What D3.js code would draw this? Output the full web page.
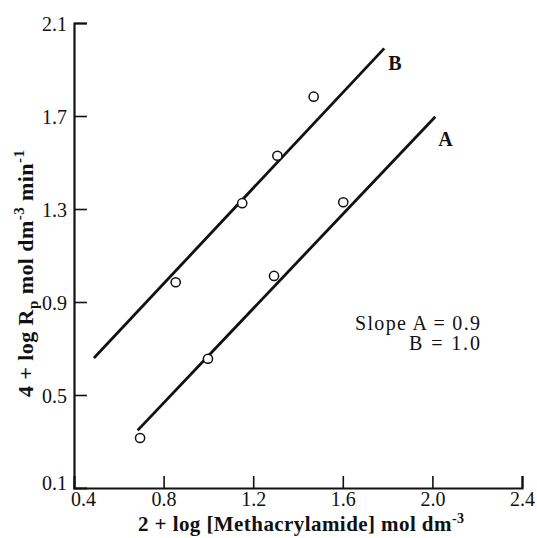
<!DOCTYPE html>
<html>
<head>
<meta charset="utf-8">
<script src="https://cdn.jsdelivr.net/npm/d3@7"></script>
<style>
  html, body { margin: 0; padding: 0; background: #fff; }
  svg text { font-family: "Liberation Serif", "Times New Roman", serif; fill: #111; }
</style>
</head>
<body>
<svg id="chart" width="537" height="538"></svg>
<script>
// Series A and B: 2 + log[Methacrylamide] vs 4 + log Rp
const seriesAX = [0.695, 0.998, 1.293, 1.602];
const seriesAY = [0.315, 0.656, 1.012, 1.329];
const seriesBX = [0.854, 1.151, 1.308, 1.470];
const seriesBY = [0.985, 1.325, 1.529, 1.783];

// Fitted straight lines (end points)
const fitAX = [0.684, 2.013];
const fitAY = [0.348, 1.697];
const fitBX = [0.489, 1.785];
const fitBY = [0.659, 1.991];

const xTicks = [0.4, 0.8, 1.2, 1.6, 2.0, 2.4];
const yTicks = [0.1, 0.5, 0.9, 1.3, 1.7, 2.1];

const svg = d3.select("#chart");
const x = d3.scaleLinear().domain([0.4, 2.4]).range([74, 522]);
const y = d3.scaleLinear().domain([0.1, 2.1]).range([488, 23]);

// Axes: ticks point inward
const xAxis = d3.axisBottom(x).tickValues(xTicks).tickSize(-12).tickPadding(18)
  .tickFormat(d3.format(".1f"));
const yAxis = d3.axisLeft(y).tickValues(yTicks).tickSize(-13).tickPadding(8)
  .tickFormat(d3.format(".1f"));

const gx = svg.append("g").attr("transform", `translate(0,${y.range()[0]})`).call(xAxis);
const gy = svg.append("g").attr("transform", `translate(${x.range()[0]},0)`).call(yAxis);

[gx, gy].forEach(g => {
  g.select(".domain").attr("stroke", "#111").attr("stroke-width", 2.2);
  g.selectAll(".tick line").attr("stroke", "#111").attr("stroke-width", 1.6);
  g.selectAll(".tick text").attr("font-size", 20).attr("fill", "#111")
    .style("font-family", "'Liberation Serif', serif");
});
gx.selectAll(".tick text").attr("dy", "0em");
gy.selectAll(".tick text").attr("dy", "0.35em").attr("x", -7);
// corner labels sit clear of each other
gx.selectAll(".tick").filter(d => d === 0.4).select("text").attr("x", 9);
gy.selectAll(".tick").filter(d => d === 0.1).select("text").attr("dy", "0.05em");
gx.selectAll(".tick").filter(d => d === 0.4).select("line").remove();
gy.selectAll(".tick").filter(d => d === 0.1).select("line").remove();

// Fitted lines
const line = d3.line().x(d => x(d[0])).y(d => y(d[1]));
[[fitAX, fitAY], [fitBX, fitBY]].forEach(([xs, ys]) => {
  svg.append("path")
    .datum(xs.map((v, i) => [v, ys[i]]))
    .attr("d", line)
    .attr("fill", "none")
    .attr("stroke", "#111")
    .attr("stroke-width", 2.8);
});

// Data points: open circles
[[seriesAX, seriesAY], [seriesBX, seriesBY]].forEach(([xs, ys]) => {
  svg.append("g").selectAll("circle")
    .data(xs.map((v, i) => [v, ys[i]]))
    .join("circle")
    .attr("cx", d => x(d[0]))
    .attr("cy", d => y(d[1]))
    .attr("r", 4.6)
    .attr("fill", "#fff")
    .attr("stroke", "#111")
    .attr("stroke-width", 1.5);
});

// Line labels
svg.append("text").attr("x", x(fitBX[1]) + 4).attr("y", y(fitBY[1]) + 22)
  .attr("font-size", 20).attr("font-weight", "bold").text("B");
svg.append("text").attr("x", x(fitAX[1]) + 3).attr("y", y(fitAY[1]) + 29)
  .attr("font-size", 20).attr("font-weight", "bold").text("A");

// Slope annotation
svg.append("text").attr("x", 480).attr("y", 330).attr("text-anchor", "end")
  .attr("font-size", 20).attr("textLength", 125).attr("lengthAdjust", "spacing")
  .text("Slope A = 0.9");
svg.append("text").attr("x", 480).attr("y", 350).attr("text-anchor", "end")
  .attr("font-size", 20).attr("textLength", 71).attr("lengthAdjust", "spacing")
  .text("B = 1.0");

// Axis titles
const xt = svg.append("text").attr("x", 138).attr("y", 531)
  .attr("font-size", 21).attr("font-weight", "bold")
  .attr("textLength", 326).attr("lengthAdjust", "spacing");
xt.append("tspan").text("2 + log [Methacrylamide] mol dm");
xt.append("tspan").attr("font-size", 14).attr("dy", -8).text("-3");

const yt = svg.append("text").attr("transform", "translate(33,397) rotate(-90)")
  .attr("font-size", 22).attr("font-weight", "bold")
  .attr("textLength", 247).attr("lengthAdjust", "spacing");
yt.append("tspan").text("4 + log R");
yt.append("tspan").attr("font-size", 15).attr("dy", 5).text("p");
yt.append("tspan").attr("dy", -5).text(" mol dm");
yt.append("tspan").attr("font-size", 15).attr("dy", -9).text("-3");
yt.append("tspan").attr("dy", 9).text(" min");
yt.append("tspan").attr("font-size", 15).attr("dy", -9).text("-1");
</script>
</body>
</html>
